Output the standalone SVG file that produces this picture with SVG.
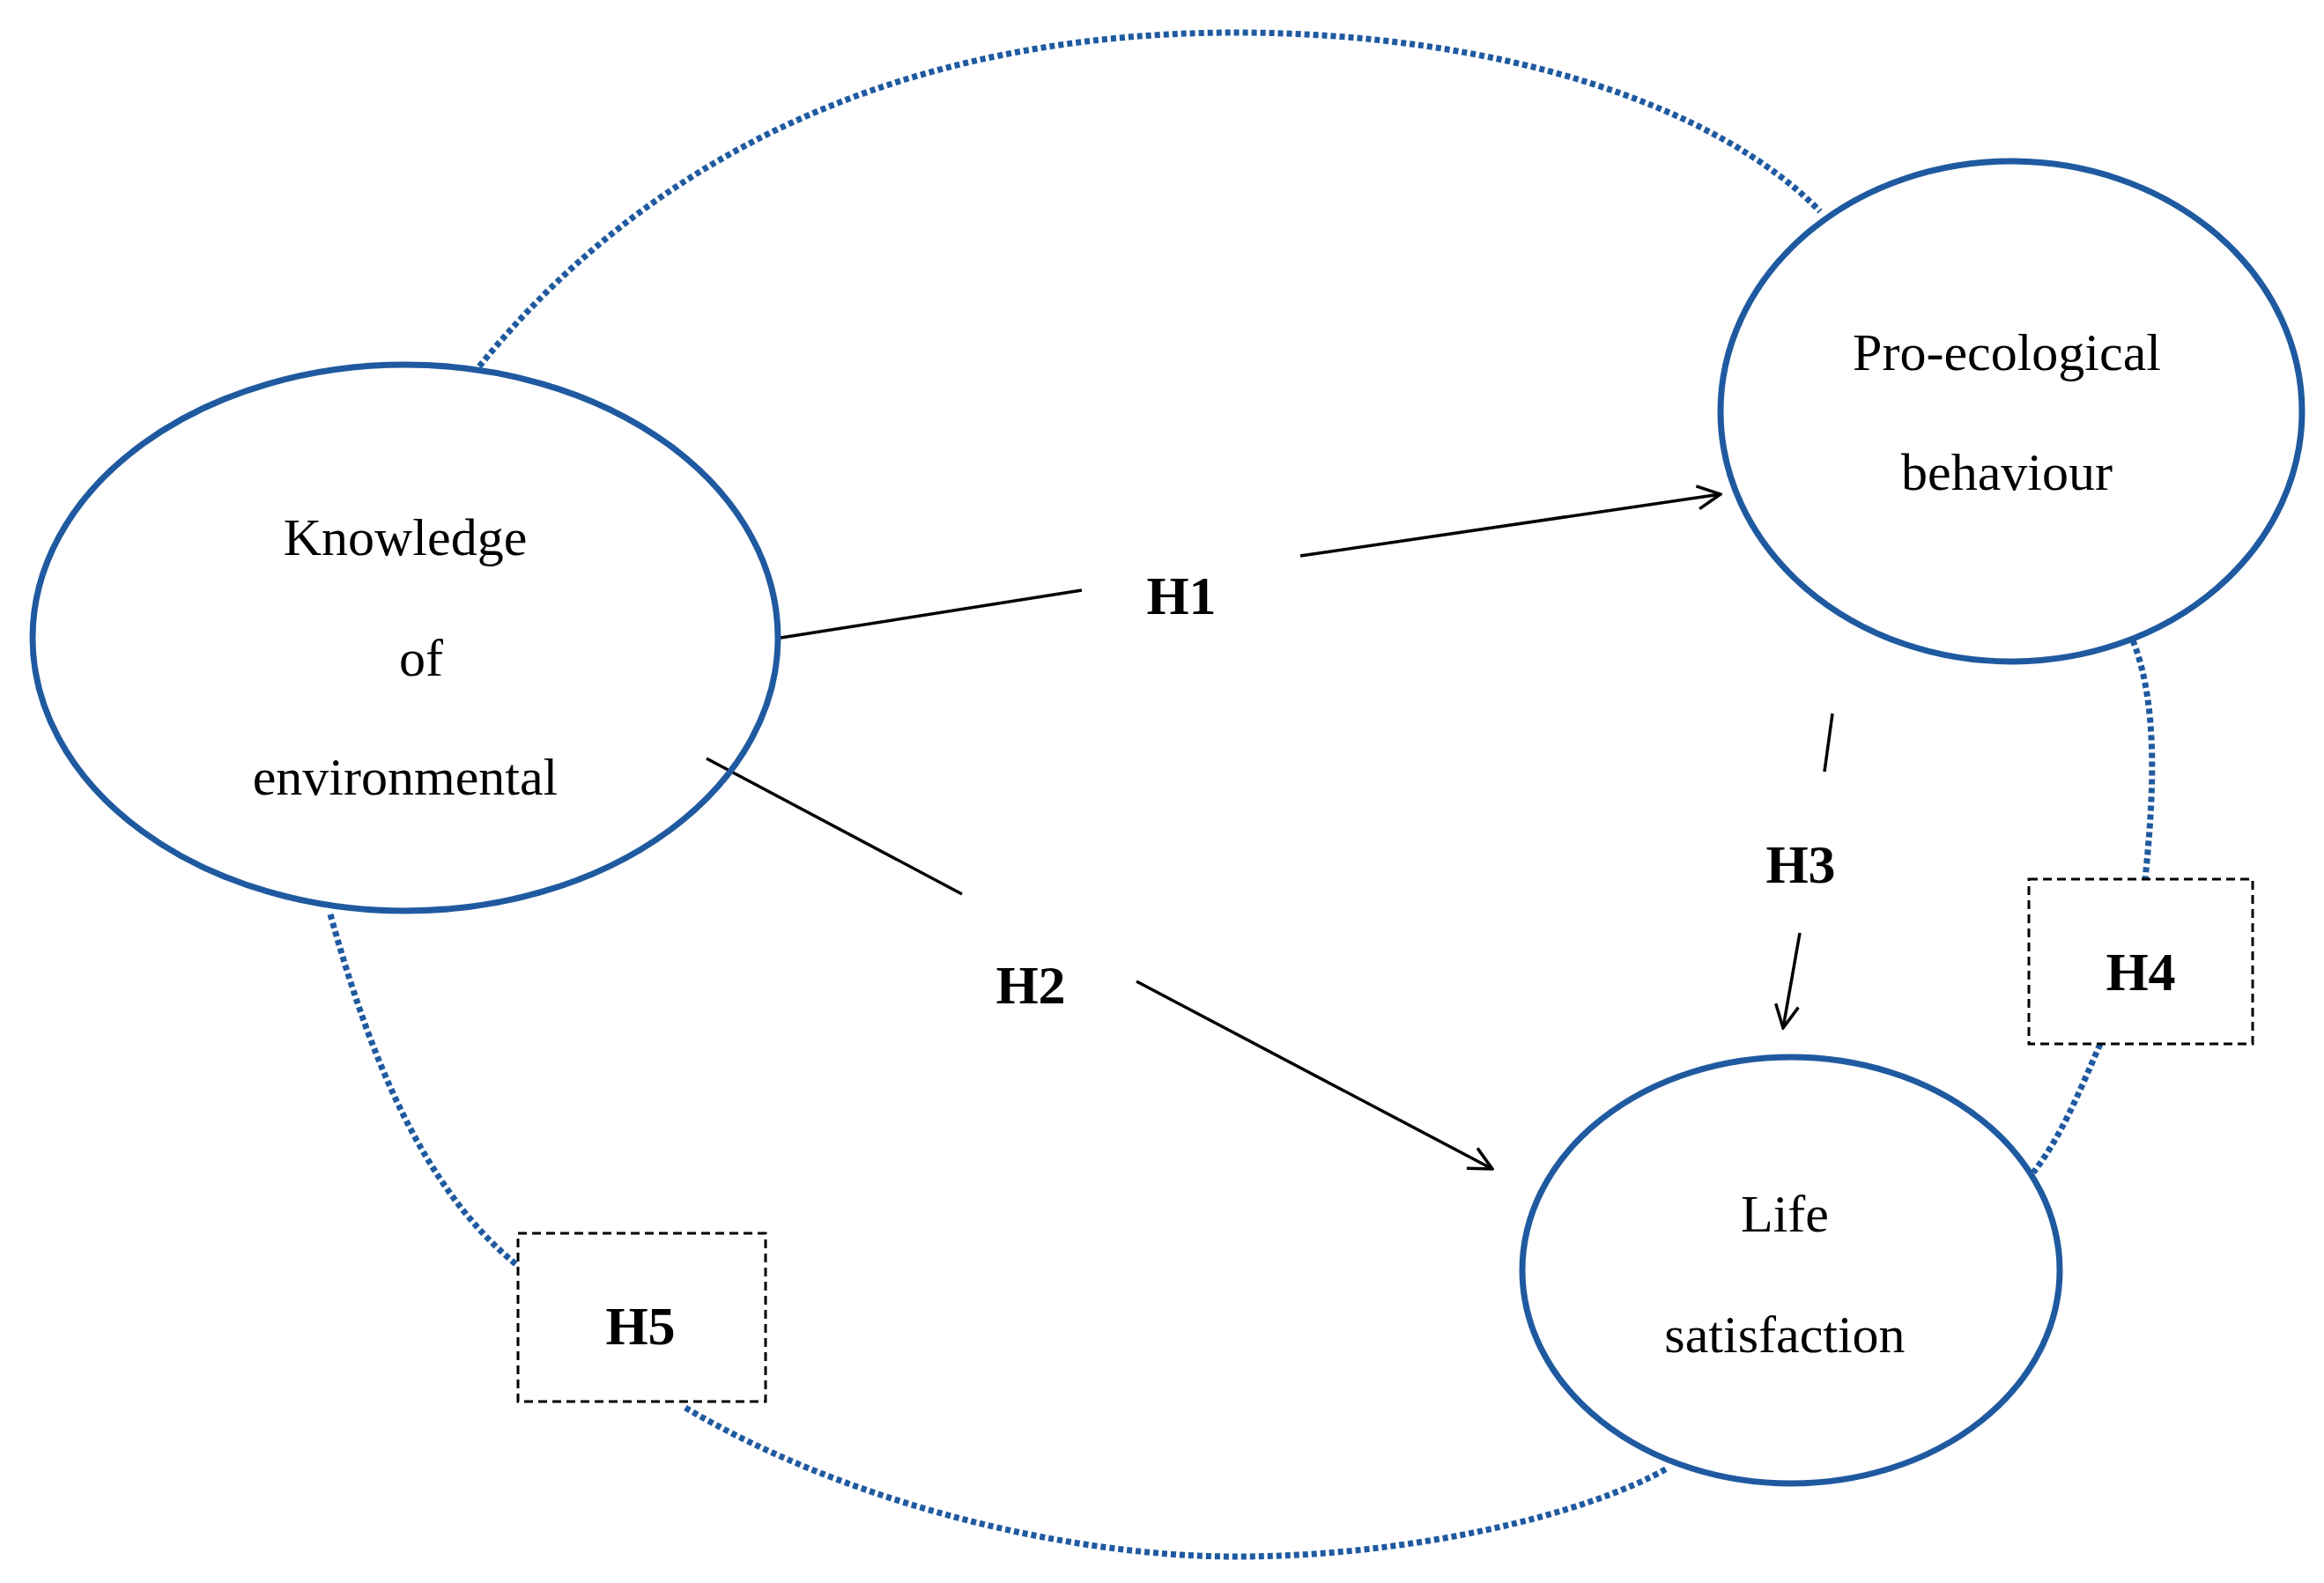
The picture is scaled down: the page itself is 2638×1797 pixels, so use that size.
<svg xmlns="http://www.w3.org/2000/svg" width="2638" height="1797" viewBox="0 0 2638 1797">
<style>
.node{fill:none;stroke:#1f5aa0;stroke-width:7}
.dot{fill:none;stroke:#1f5aa0;stroke-width:7;stroke-dasharray:6 4}
.ln{fill:none;stroke:#000;stroke-width:3.5}
.t{font-family:"Liberation Serif",serif;font-size:60px;text-anchor:middle;fill:#000}
.h{font-family:"Liberation Serif",serif;font-size:62px;font-weight:bold;text-anchor:middle;fill:#000}
.box{fill:none;stroke:#000;stroke-width:3;stroke-dasharray:10 6}
</style>
<defs><marker id="a" markerWidth="30" markerHeight="30" refX="28" refY="15" orient="auto" markerUnits="userSpaceOnUse"><path d="M2,2 L28,15 L2,28" fill="none" stroke="#000" stroke-width="3.5"/></marker></defs>
<rect width="2638" height="1797" fill="#fff"/>
<g id="connectors">
<path class="dot" d="M544,416 C800,100 1150,37 1403,37 C1700,37 1950,120 2066,240"/>
<path class="dot" d="M778,1598 C950,1700 1200,1767 1403,1767 C1600,1767 1800,1720 1894,1666"/>
<path class="dot" d="M375,1038 C420,1200 480,1350 588,1437"/>
<path class="dot" d="M2421,727 C2450,800 2445,900 2435,998"/>
<path class="dot" d="M2384,1185 C2360,1240 2340,1290 2308,1331"/>
<path class="ln" d="M886,724 L1228,670"/>
<path class="ln" d="M1476,631 L1953,561" marker-end="url(#a)"/>
<path class="ln" d="M802,861 L1092,1015"/>
<path class="ln" d="M1290,1114 L1694,1327" marker-end="url(#a)"/>
<path class="ln" d="M2080,810 L2071,876"/>
<path class="ln" d="M2043,1059 L2024,1167" marker-end="url(#a)"/>
</g>
<g id="knowledge"><ellipse class="node" cx="460" cy="724" rx="423" ry="310"/>
<text class="t" x="460" y="630">Knowledge</text><text class="t" x="478" y="767">of</text><text class="t" x="460" y="902">environmental</text></g>
<g id="proeco"><ellipse class="node" cx="2283" cy="467" rx="330" ry="284"/>
<text class="t" x="2278" y="420">Pro-ecological</text><text class="t" x="2278" y="556">behaviour</text></g>
<g id="life"><ellipse class="node" cx="2033" cy="1442" rx="305" ry="242"/>
<text class="t" x="2026" y="1398">Life</text><text class="t" x="2026" y="1535">satisfaction</text></g>
<g id="h1"><text class="h" x="1341" y="697">H1</text></g>
<g id="h2"><text class="h" x="1170" y="1139">H2</text></g>
<g id="h3"><text class="h" x="2044" y="1002">H3</text></g>
<g id="h4"><rect class="box" x="2303" y="998" width="254" height="187"/><text class="h" x="2430" y="1124">H4</text></g>
<g id="h5"><rect class="box" x="588" y="1400" width="281" height="191"/><text class="h" x="727" y="1526">H5</text></g>
</svg>
